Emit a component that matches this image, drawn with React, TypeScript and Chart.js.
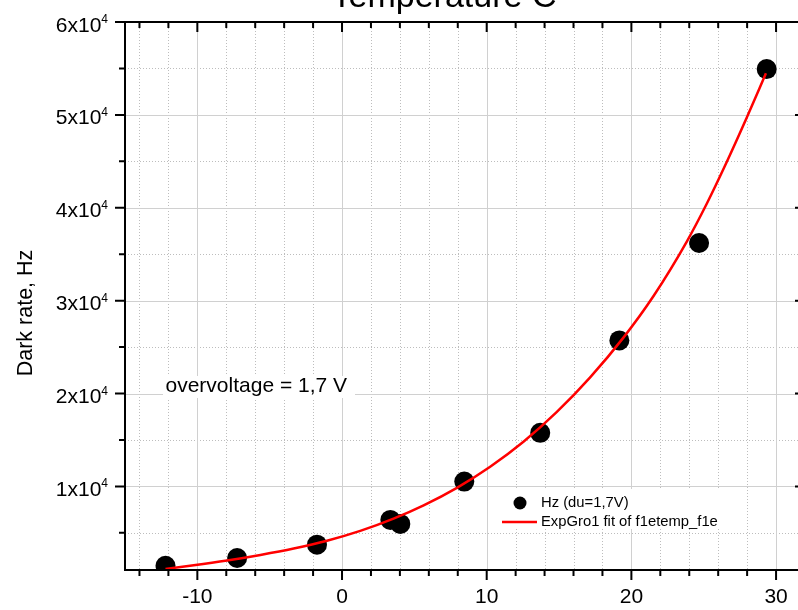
import React, { useEffect, useRef } from 'react';
import { Chart, registerables } from 'chart.js';

Chart.register(...registerables);

// ---- data ----
const tempC = [-12.2, -7.25, -1.73, 3.34, 4.03, 8.45, 13.7, 19.17, 24.68, 29.35];
const darkRateHz = [1460, 2290, 3730, 6390, 5960, 10520, 15770, 25720, 36210, 54930];

const fitTemp = [-12.2, -10.25, -7.94, -5.64, -3.34, -1.04, 1.26, 3.56, 5.64, 7.94, 10.24, 12.54, 14.85, 17.15, 19.45, 21.52, 23.83, 25.2, 26.59, 27.97, 29.3];
const fitHz = [1110, 1500, 2020, 2620, 3310, 4150, 5210, 6530, 7960, 9850, 12120, 14810, 18020, 21740, 26020, 30470, 36360, 40400, 44920, 49680, 54470];

const xMajorTicks = [-10, 0, 10, 20, 30];
const xTickLabels = ['-10', '0', '10', '20', '30'];
const xMinorTicks = [-14, -12, -8, -6, -4, -2, 2, 4, 6, 8, 12, 14, 16, 18, 22, 24, 26, 28];
const yMajorTicks = [10000, 20000, 30000, 40000, 50000, 60000];
const yTickMantissa = ['1', '2', '3', '4', '5', '6'];
const yTickExponent = '4';
const yMinorTicks = [5000, 15000, 25000, 35000, 45000, 55000];

const titleText = 'Temperature C';
const yAxisTitle = 'Dark rate, Hz';
const noteText = 'overvoltage = 1,7 V';
const legendPoints = 'Hz (du=1,7V)';
const legendFit = 'ExpGro1 fit of f1etemp_f1e';

const FONT = '"Liberation Sans", Arial, sans-serif';

const originPlugin = {
  id: 'originStyle',
  beforeDatasetsDraw(chart: any) {
    const { ctx, chartArea: a, scales } = chart;
    const x = scales.x;
    const y = scales.y;
    ctx.save();
    ctx.lineWidth = 1;
    // minor dotted grid
    ctx.strokeStyle = '#bdbdbd';
    ctx.setLineDash([1, 2]);
    ctx.beginPath();
    for (const v of xMinorTicks) {
      const px = Math.round(x.getPixelForValue(v)) + 0.5;
      ctx.moveTo(px, a.top);
      ctx.lineTo(px, a.bottom);
    }
    for (const v of yMinorTicks) {
      const py = Math.round(y.getPixelForValue(v)) + 0.5;
      ctx.moveTo(a.left, py);
      ctx.lineTo(a.right, py);
    }
    ctx.stroke();
    // major solid grid
    ctx.setLineDash([]);
    ctx.strokeStyle = '#d0d0d0';
    ctx.beginPath();
    for (const v of xMajorTicks) {
      const px = Math.round(x.getPixelForValue(v)) + 0.5;
      ctx.moveTo(px, a.top);
      ctx.lineTo(px, a.bottom);
    }
    for (const v of yMajorTicks) {
      const py = Math.round(y.getPixelForValue(v)) + 0.5;
      ctx.moveTo(a.left, py);
      ctx.lineTo(a.right, py);
    }
    ctx.stroke();

    // white boxes behind note and legend
    ctx.fillStyle = '#ffffff';
    ctx.fillRect(163, 376, 192, 22);
    ctx.fillRect(496, 489, 230, 40);
    ctx.restore();
  },
  afterDraw(chart: any) {
    const { ctx, chartArea: a, scales } = chart;
    const x = scales.x;
    const y = scales.y;
    ctx.save();
    ctx.strokeStyle = '#000';
    ctx.fillStyle = '#000';
    ctx.lineWidth = 2;
    ctx.setLineDash([]);
    // frame
    ctx.beginPath();
    ctx.moveTo(a.left, a.top);
    ctx.lineTo(a.right, a.top);
    ctx.lineTo(a.right, a.bottom);
    ctx.lineTo(a.left, a.bottom);
    ctx.closePath();
    ctx.stroke();

    // ticks
    ctx.beginPath();
    for (const v of xMajorTicks) {
      const px = x.getPixelForValue(v);
      ctx.moveTo(px, a.bottom); ctx.lineTo(px, a.bottom + 10);
      ctx.moveTo(px, a.top); ctx.lineTo(px, a.top + 10);
    }
    for (const v of xMinorTicks) {
      const px = x.getPixelForValue(v);
      ctx.moveTo(px, a.bottom); ctx.lineTo(px, a.bottom + 6);
      ctx.moveTo(px, a.top); ctx.lineTo(px, a.top + 6);
    }
    for (const v of yMajorTicks) {
      const py = y.getPixelForValue(v);
      ctx.moveTo(a.left, py); ctx.lineTo(a.left - 10, py);
      ctx.moveTo(a.right, py); ctx.lineTo(a.right - 10, py);
    }
    for (const v of yMinorTicks) {
      const py = y.getPixelForValue(v);
      ctx.moveTo(a.left, py); ctx.lineTo(a.left - 6, py);
      ctx.moveTo(a.right, py); ctx.lineTo(a.right - 6, py);
    }
    ctx.stroke();

    // x tick labels
    ctx.font = `21px ${FONT}`;
    ctx.textAlign = 'center';
    ctx.textBaseline = 'alphabetic';
    xMajorTicks.forEach((v, i) => {
      ctx.fillText(xTickLabels[i], x.getPixelForValue(v), 603);
    });

    // y tick labels with superscript
    yMajorTicks.forEach((v, i) => {
      const py = y.getPixelForValue(v);
      const main = `${yTickMantissa[i]}x10`;
      ctx.font = `12px ${FONT}`;
      const w2 = ctx.measureText(yTickExponent).width;
      ctx.textAlign = 'left';
      const right = 108;
      ctx.fillText(yTickExponent, right - w2, py + 1);
      ctx.font = `21px ${FONT}`;
      const w1 = ctx.measureText(main).width;
      ctx.fillText(main, right - w2 - w1, py + 9.5);
    });

    // y axis title
    ctx.save();
    ctx.translate(32, 313);
    ctx.rotate(-Math.PI / 2);
    ctx.font = `21.5px ${FONT}`;
    ctx.textAlign = 'center';
    ctx.textBaseline = 'alphabetic';
    ctx.fillText(yAxisTitle, 0, 0);
    ctx.restore();

    // title (cut at top)
    ctx.font = `34px ${FONT}`;
    ctx.textAlign = 'center';
    ctx.fillText(titleText, 444, 6.5);

    // note
    ctx.font = `21px ${FONT}`;
    ctx.textAlign = 'left';
    ctx.fillText(noteText, 165.5, 392);

    // legend
    ctx.beginPath();
    ctx.arc(520, 503, 6.5, 0, Math.PI * 2);
    ctx.fill();
    ctx.strokeStyle = '#ff0000';
    ctx.lineWidth = 2.5;
    ctx.beginPath();
    ctx.moveTo(502, 522);
    ctx.lineTo(537, 522);
    ctx.stroke();
    ctx.font = `14.8px ${FONT}`;
    ctx.textBaseline = 'middle';
    ctx.fillStyle = '#000';
    ctx.fillText(legendPoints, 541, 503);
    ctx.fillText(legendFit, 541, 522);
    ctx.restore();
  },
};

export default function App() {
  const ref = useRef<HTMLCanvasElement | null>(null);
  useEffect(() => {
    if (!ref.current) return;
    const chart = new Chart(ref.current, {
      type: 'scatter',
      data: {
        datasets: [
          {
            type: 'line',
            label: legendFit,
            data: fitTemp.map((t, i) => ({ x: t, y: fitHz[i] })),
            borderColor: '#ff0000',
            borderWidth: 2.5,
            pointRadius: 0,
            fill: false,
            cubicInterpolationMode: 'monotone',
            clip: 0,
          } as any,
          {
            type: 'scatter',
            label: legendPoints,
            data: tempC.map((t, i) => ({ x: t, y: darkRateHz[i] })),
            backgroundColor: '#000000',
            borderWidth: 0,
            pointRadius: 10,
            pointHoverRadius: 10,
            clip: 0,
          } as any,
        ],
      },
      options: {
        animation: false,
        responsive: false,
        devicePixelRatio: 1,
        events: [],
        layout: { padding: { left: 125, top: 22, right: 25, bottom: 40 } },
        scales: {
          x: { type: 'linear', min: -15, max: 32, display: false },
          y: { type: 'linear', min: 1000, max: 60000, display: false },
        },
        plugins: {
          legend: { display: false },
          title: { display: false },
          tooltip: { enabled: false },
        },
      },
      plugins: [originPlugin],
    });
    return () => chart.destroy();
  }, []);

  return (
    <div
      style={{
        position: 'absolute',
        left: 0,
        top: 0,
        width: 798,
        height: 610,
        overflow: 'hidden',
        background: '#fff',
      }}
    >
      <canvas ref={ref} width={830} height={610} style={{ display: 'block', width: 830, height: 610 }} />
    </div>
  );
}
